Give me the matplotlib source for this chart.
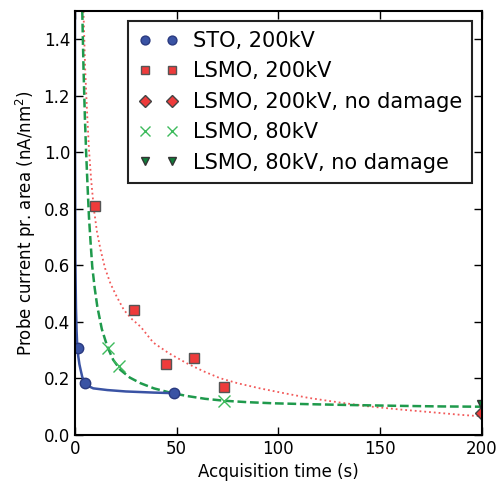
import matplotlib
matplotlib.use('Agg')
import matplotlib.pyplot as plt

# measured points
sto_t = [1.6, 5.1, 48.8]
sto_j = [0.307, 0.183, 0.148]
lsmo200_t = [9.8, 29.0, 44.7, 58.5, 73.5]
lsmo200_j = [0.81, 0.443, 0.252, 0.272, 0.171]
lsmo200_nd_t = [200.0]
lsmo200_nd_j = [0.076]
lsmo80_t = [16.4, 21.8, 73.5]
lsmo80_j = [0.309, 0.244, 0.120]
lsmo80_nd_t = [200.0]
lsmo80_nd_j = [0.106]

# fit curves
sto_fit_t = [0.0, 0.05, 0.2, 0.5, 0.8, 1.1, 1.6, 2.2, 2.8, 3.6, 4.5, 6.0,
             9.0, 15.9, 25.0, 38.8, 48.8]
sto_fit_j = [1.5, 0.98, 0.62, 0.45, 0.37, 0.32, 0.28, 0.25, 0.23, 0.205, 0.19, 0.175,
             0.165, 0.159, 0.154, 0.150, 0.148]
lsmo80_fit_t = [3.6, 4.2, 4.9, 5.5, 6.2, 6.9, 7.7, 8.5, 9.7, 11.0, 13.2, 15.9,
                18.8, 22.4, 27.0, 32.3, 38.8, 46.7, 55.0, 64.0, 73.7, 85.0,
                98.0, 115.0, 135.0, 160.0, 180.0, 200.0]
lsmo80_fit_j = [1.5, 1.3, 1.12, 1.0, 0.88, 0.77, 0.68, 0.596, 0.52, 0.454, 0.375, 0.313,
                0.266, 0.23, 0.203, 0.183, 0.165, 0.150, 0.138, 0.128, 0.121, 0.116,
                0.112, 0.109, 0.106, 0.103, 0.101, 0.100]
lsmo200_fit_t = [4.2, 5.0, 5.9, 6.9, 8.0, 9.3, 10.8, 12.6, 14.8, 17.5, 20.5, 24.1,
                 28.0, 32.3, 38.5, 46.0, 54.9, 63.0, 71.3, 80.0, 90.9, 102.0,
                 115.0, 130.0, 143.3, 160.0, 176.0, 190.0, 200.0]
lsmo200_fit_j = [1.5, 1.3, 1.15, 1.01, 0.90, 0.80, 0.72, 0.655, 0.59, 0.535, 0.49, 0.442,
                 0.41, 0.383, 0.327, 0.29, 0.254, 0.226, 0.201, 0.183, 0.165, 0.149,
                 0.131, 0.115, 0.102, 0.090, 0.080, 0.071, 0.066]

blue = '#3a53a4'
red = '#ee3b3b'
green = '#1f9a4c'
dkgreen = '#0f7f3a'

plt.rcParams['font.family'] = 'DejaVu Sans'
plt.rcParams['xtick.direction'] = 'in'
plt.rcParams['ytick.direction'] = 'in'

fig = plt.figure(figsize=(5.03, 4.86), dpi=100)
ax = fig.add_axes([0.149, 0.105, 0.809, 0.872])

ax.plot(lsmo200_fit_t, lsmo200_fit_j, ':', color='#f25a5a', lw=1.3)
ax.plot(lsmo80_fit_t, lsmo80_fit_j, '--', color=green, lw=1.8, dashes=(3.5, 1.5))
ax.plot(sto_fit_t, sto_fit_j, '-', color=blue, lw=1.8)

ax.plot(sto_t, sto_j, 'o', color=blue, mec='#2a3a80', ms=7.5, label='STO, 200kV')
ax.plot(lsmo200_t, lsmo200_j, 's', color=red, mec='#555555', ms=7.5, label='LSMO, 200kV')
ax.plot(lsmo200_nd_t, lsmo200_nd_j, 'D', color=red, mec='#444444', ms=7.5, label='LSMO, 200kV, no damage')
ax.plot(lsmo80_t, lsmo80_j, 'x', color='#3dbb5c', ms=9, mew=1.0, label='LSMO, 80kV')
ax.plot(lsmo80_nd_t, lsmo80_nd_j, 'v', color=dkgreen, mec='#333333', ms=7.5, label='LSMO, 80kV, no damage')

ax.set_xlim(0, 200)
ax.set_ylim(0, 1.5)
ax.set_xticks([0, 50, 100, 150, 200])
ax.set_yticks([0.0, 0.2, 0.4, 0.6, 0.8, 1.0, 1.2, 1.4])
ax.set_yticklabels(['0.0', '0.2', '0.4', '0.6', '0.8', '1.0', '1.2', '1.4'])
ax.tick_params(top=True, right=True, labelsize=12, length=6, width=1)
for s in ax.spines.values():
    s.set_linewidth(1.5)

ax.set_xlabel('Acquisition time (s)', fontsize=12)
ax.set_ylabel('Probe current pr. area (nA/nm$^2$)', fontsize=12)

leg = ax.legend(loc='upper right', numpoints=2, fontsize=15, fancybox=False,
                framealpha=1, edgecolor='#222222', handlelength=1.9,
                handletextpad=0.7, markerscale=0.85, borderpad=0.5,
                borderaxespad=0.45, labelspacing=0.5)
leg.get_frame().set_linewidth(1.5)

fig.savefig('out.png', dpi=100)
